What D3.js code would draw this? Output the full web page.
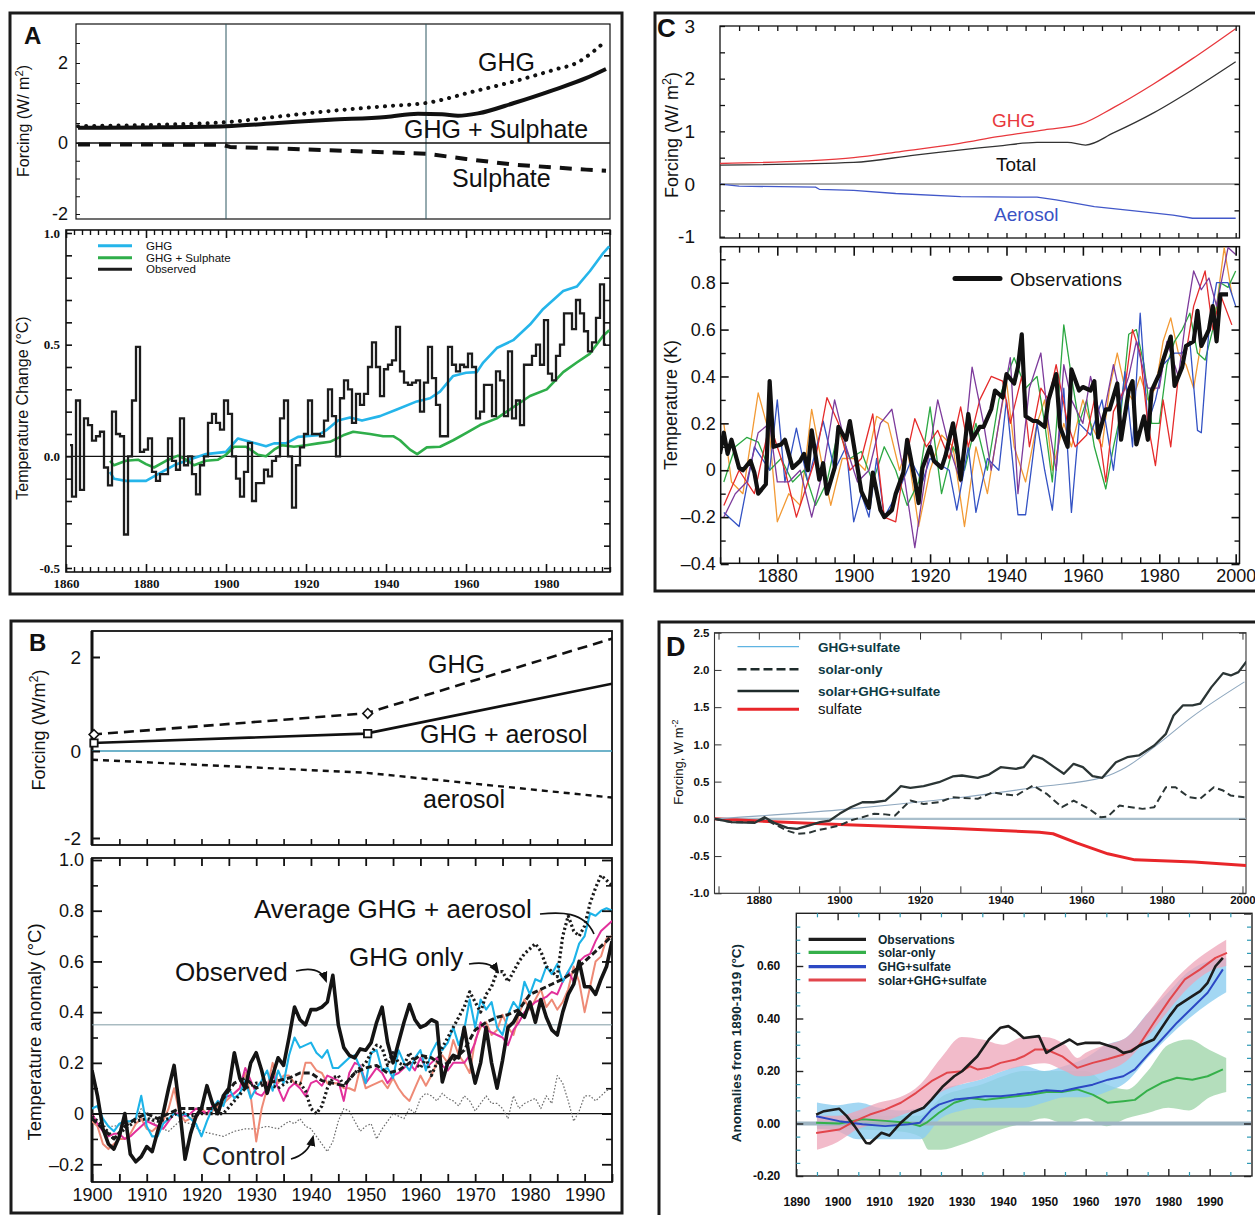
<!DOCTYPE html>
<html>
<head>
<meta charset="utf-8">
<script src="https://cdn.jsdelivr.net/npm/d3@7"></script>
<style>
  body { margin: 0; background: #fff; }
  svg { display: block; }
</style>
</head>
<body>
<script>
// ---------------- data ----------------

// A : forcing (W/m2)
const aGhgForcing = [[1863,0.42],[1880,0.45],[1900,0.52],[1913,0.66],[1926,0.8],[1940,0.92],[1950,1.0],[1962,1.29],[1972,1.54],[1982,1.83],[1988,2.02],[1992,2.3],[1995,2.56]];
const aMixForcing = [[1863,0.38],[1880,0.39],[1900,0.42],[1913,0.5],[1926,0.58],[1940,0.65],[1948,0.73],[1954,0.72],[1958,0.68],[1963,0.74],[1972,1.0],[1982,1.33],[1990,1.62],[1995,1.85]];
const aSulForcing = [[1863,-0.04],[1899,-0.05],[1901,-0.11],[1925,-0.2],[1950,-0.3],[1960,-0.45],[1972,-0.61],[1990,-0.75],[1995,-0.78]];

// A : temperature change, observed annual values from 1861
const aObsStart = 1861;
const aObserved = [
  0.05,-0.18,0.25,-0.15,0.17,0.14,0.07,0.09,0.11,-0.05,
  -0.13,0.2,0.1,0.09,-0.35,0.0,0.25,0.49,0.02,0.03,
  0.08,-0.07,-0.11,-0.08,-0.08,0.08,-0.02,-0.06,0.17,-0.04,
  0.0,-0.08,-0.17,-0.04,0.0,0.15,0.19,0.15,0.12,0.25,
  0.19,0.0,-0.1,-0.18,-0.07,0.06,-0.2,-0.12,-0.12,-0.06,
  -0.09,-0.02,0.0,0.17,0.25,0.0,-0.23,-0.04,0.04,0.1,
  0.25,0.1,0.1,0.09,0.16,0.3,0.18,0.0,0.26,0.34,
  0.3,0.15,0.28,0.23,0.28,0.4,0.51,0.4,0.27,0.39,
  0.41,0.43,0.58,0.38,0.33,0.32,0.33,0.34,0.2,0.33,
  0.49,0.35,0.23,0.09,0.09,0.49,0.41,0.38,0.41,0.4,
  0.46,0.4,0.17,0.2,0.32,0.32,0.18,0.38,0.34,0.18,
  0.47,0.17,0.25,0.14,0.41,0.41,0.45,0.5,0.41,0.61,
  0.37,0.34,0.45,0.5,0.64,0.64,0.57,0.7,0.64,0.56,
  0.47,0.51,0.62,0.77,0.5
];
const aGhgModel = [[1871,-0.07],[1872,-0.1],[1875,-0.11],[1880,-0.11],[1883,-0.08],[1887,-0.04],[1890,-0.02],[1895,0.01],[1900,0.02],[1903,0.08],[1906,0.065],[1910,0.045],[1912,0.058],[1915,0.058],[1918,0.087],[1920,0.09],[1923,0.095],[1925,0.116],[1928,0.16],[1931,0.174],[1934,0.16],[1938.5,0.18],[1942.7,0.21],[1947.7,0.246],[1951,0.26],[1953.5,0.29],[1956.8,0.36],[1960,0.374],[1962.7,0.377],[1964.3,0.42],[1967.7,0.485],[1971.8,0.52],[1976,0.59],[1979.3,0.66],[1984.3,0.74],[1987.7,0.76],[1991,0.83],[1994.3,0.91],[1995.8,0.94]];
const aMixModel = [[1871,-0.02],[1872,-0.04],[1875,-0.02],[1878,-0.015],[1880,-0.035],[1882,-0.05],[1885,-0.02],[1888,0.003],[1890,-0.015],[1892,-0.04],[1895,-0.02],[1898,-0.015],[1900,0.007],[1902,0.043],[1905,0.043],[1908,0.007],[1910,0.0],[1912,0.03],[1914,0.05],[1917,0.043],[1920,0.05],[1923,0.058],[1926,0.065],[1929.3,0.094],[1931.8,0.11],[1936,0.1],[1939.3,0.09],[1941.8,0.09],[1943.5,0.072],[1946,0.03],[1947.8,0.01],[1950.2,0.04],[1953.5,0.043],[1956.8,0.072],[1960,0.104],[1963.5,0.14],[1967.7,0.17],[1971.8,0.22],[1976,0.27],[1980.2,0.3],[1984.3,0.377],[1987.7,0.42],[1991,0.46],[1994.3,0.54],[1995.8,0.565]];
const aLegend = ["GHG", "GHG + Sulphate", "Observed"];

// B : forcing
const bGhgForcing = [[1900,0.35],[1950,0.8],[1995,2.39]];
const bMixForcing = [[1900,0.17],[1950,0.37],[1995,1.43]];
const bAerForcing = [[1900,-0.2],[1950,-0.5],[1995,-1.07]];

// B : temperature anomaly, annual from 1900
const bStart = 1900;
const bObserved = [0.17,0.07,-0.06,-0.12,-0.14,-0.09,0.0,-0.16,-0.19,-0.17,
  -0.13,-0.15,-0.07,0.0,0.1,0.19,0.02,-0.18,-0.08,-0.01,
  0.02,0.11,0.04,0.0,0.07,0.1,0.24,0.14,0.1,0.2,
  0.24,0.17,0.08,0.15,0.22,0.19,0.3,0.42,0.37,0.35,
  0.41,0.41,0.42,0.44,0.545,0.35,0.26,0.23,0.22,0.255,
  0.25,0.28,0.36,0.42,0.28,0.2,0.28,0.36,0.43,0.37,
  0.34,0.35,0.37,0.36,0.125,0.2,0.23,0.22,0.34,0.22,
  0.12,0.2,0.34,0.2,0.1,0.21,0.34,0.36,0.4,0.38,
  0.44,0.36,0.45,0.38,0.33,0.31,0.4,0.47,0.51,0.6,
  0.5,0.5,0.47,0.53,0.58,0.68];
const bCyan = [0.02,0.03,-0.02,-0.05,-0.07,-0.04,-0.03,-0.03,-0.02,0.07,
  -0.05,-0.09,-0.09,-0.04,-0.02,0.0,-0.01,0.0,-0.02,-0.04,
  -0.09,-0.03,0.02,0.05,0.03,0.1,0.06,0.08,0.13,0.06,
  0.1,0.13,0.17,0.09,0.17,0.12,0.23,0.3,0.26,0.27,
  0.28,0.24,0.22,0.25,0.18,0.18,0.2,0.22,0.23,0.18,
  0.12,0.24,0.25,0.17,0.18,0.14,0.25,0.2,0.17,0.22,
  0.25,0.17,0.24,0.28,0.25,0.28,0.34,0.27,0.33,0.45,
  0.34,0.45,0.41,0.44,0.34,0.31,0.39,0.44,0.41,0.52,
  0.47,0.53,0.52,0.58,0.55,0.59,0.52,0.56,0.6,0.67,
  0.7,0.79,0.78,0.8,0.81,0.8];
const bSalmon = [-0.03,-0.05,-0.12,-0.14,-0.12,-0.1,-0.1,-0.08,-0.04,-0.02,
  -0.06,-0.07,-0.05,-0.03,0.02,0.1,0.0,-0.03,-0.02,-0.02,
  0.02,0.0,0.01,0.03,0.04,0.06,0.08,0.1,0.16,0.07,
  -0.11,0.02,0.1,0.2,0.12,0.15,0.15,0.12,0.11,0.2,
  0.2,0.17,0.16,0.12,0.12,0.12,0.1,0.1,0.09,0.18,
  0.1,0.11,0.12,0.13,0.1,0.14,0.1,0.07,0.05,0.1,
  0.15,0.11,0.15,0.2,0.23,0.2,0.29,0.23,0.2,0.16,
  0.29,0.34,0.36,0.31,0.33,0.39,0.34,0.31,0.39,0.45,
  0.41,0.45,0.49,0.42,0.45,0.41,0.44,0.49,0.58,0.52,
  0.4,0.5,0.6,0.62,0.69,0.7];
const bMagenta = [0.0,-0.04,-0.07,-0.09,-0.08,-0.08,-0.1,-0.09,-0.07,-0.05,
  -0.03,-0.04,-0.05,-0.06,-0.03,0.0,0.0,-0.01,0.0,0.02,
  0.01,0.0,0.03,0.04,0.06,0.07,0.08,0.1,0.18,0.13,
  0.08,0.07,0.1,0.16,0.1,0.05,0.1,0.12,0.1,0.07,
  0.12,0.13,0.11,0.15,0.14,0.13,0.05,0.16,0.2,0.19,
  0.12,0.15,0.18,0.16,0.12,0.15,0.16,0.18,0.2,0.17,
  0.22,0.18,0.2,0.22,0.19,0.17,0.2,0.2,0.2,0.23,
  0.28,0.36,0.33,0.32,0.31,0.3,0.27,0.33,0.36,0.4,
  0.42,0.44,0.45,0.46,0.48,0.47,0.52,0.56,0.52,0.6,
  0.62,0.63,0.68,0.72,0.74,0.76];
const bAverage = [[1900,-0.02],[1902,-0.06],[1904,-0.1],[1906,-0.05],[1908,-0.02],[1910,0.0],[1912,-0.02],[1914,0.0],[1916,0.02],[1918,0.02],[1920,0.02],[1922,0.02],[1924,0.06],[1926,0.12],[1928,0.14],[1930,0.1],[1932,0.12],[1934,0.13],[1936,0.14],[1938,0.16],[1940,0.16],[1942,0.13],[1944,0.12],[1946,0.11],[1948,0.16],[1950,0.18],[1952,0.19],[1954,0.16],[1956,0.17],[1958,0.2],[1960,0.23],[1962,0.22],[1964,0.19],[1966,0.21],[1968,0.25],[1970,0.33],[1972,0.36],[1974,0.38],[1976,0.39],[1978,0.41],[1980,0.47],[1982,0.49],[1984,0.51],[1986,0.53],[1988,0.56],[1990,0.6],[1992,0.64],[1994,0.68],[1995,0.7]];
const bGhgOnly = [[1900,-0.01],[1902,-0.05],[1904,-0.1],[1906,-0.06],[1908,-0.03],[1910,-0.02],[1912,-0.03],[1914,-0.02],[1916,0.01],[1918,-0.01],[1920,0.0],[1922,0.0],[1924,0.0],[1926,0.05],[1928,0.1],[1930,0.12],[1932,0.12],[1934,0.1],[1936,0.13],[1938,0.12],[1939,0.09],[1940,0.02],[1941,0.0],[1942,0.03],[1943,0.1],[1944,0.14],[1945,0.15],[1946,0.11],[1948,0.16],[1950,0.2],[1951,0.24],[1952,0.27],[1953,0.26],[1954,0.19],[1955,0.24],[1956,0.2],[1957,0.19],[1958,0.24],[1959,0.2],[1960,0.18],[1961,0.22],[1962,0.15],[1963,0.2],[1964,0.26],[1965,0.3],[1966,0.34],[1967,0.38],[1968,0.42],[1969,0.48],[1970,0.44],[1971,0.4],[1972,0.47],[1973,0.5],[1974,0.56],[1975,0.56],[1976,0.52],[1977,0.56],[1978,0.6],[1979,0.63],[1980,0.65],[1981,0.67],[1982,0.64],[1983,0.58],[1984,0.56],[1985,0.54],[1986,0.7],[1987,0.78],[1988,0.72],[1989,0.7],[1990,0.74],[1991,0.83],[1992,0.89],[1993,0.94],[1994,0.92],[1995,0.9]];
const bControl = [[1900,-0.03],[1902,-0.05],[1904,-0.05],[1906,-0.04],[1908,-0.03],[1909,0.02],[1910,0.0],[1911,-0.03],[1912,-0.05],[1914,-0.07],[1916,-0.03],[1918,-0.04],[1920,-0.07],[1922,-0.08],[1924,-0.09],[1926,-0.07],[1928,-0.06],[1930,-0.06],[1932,-0.05],[1934,-0.06],[1936,-0.03],[1937,-0.04],[1938,-0.02],[1939,-0.05],[1940,-0.06],[1941,-0.09],[1942,-0.12],[1943,-0.15],[1944,-0.11],[1945,-0.03],[1946,0.02],[1947,0.01],[1948,-0.03],[1949,-0.07],[1950,-0.05],[1951,-0.04],[1952,-0.1],[1953,-0.06],[1954,-0.03],[1955,0.0],[1956,-0.01],[1957,-0.02],[1958,0.02],[1959,0.0],[1960,0.06],[1961,0.08],[1962,0.07],[1963,0.05],[1964,0.08],[1965,0.06],[1966,0.05],[1967,0.03],[1968,0.07],[1969,0.05],[1970,0.01],[1971,0.04],[1972,0.07],[1973,0.04],[1974,0.04],[1975,0.02],[1976,-0.02],[1977,0.07],[1978,0.02],[1979,0.04],[1980,0.05],[1981,0.06],[1982,0.02],[1983,0.07],[1984,0.04],[1985,0.15],[1986,0.12],[1987,0.05],[1988,-0.03],[1989,0.01],[1990,0.07],[1991,0.07],[1992,0.05],[1993,0.07],[1994,0.09],[1995,0.1]];

// C : forcing
const cGhg = [[1865,0.39],[1887.5,0.44],[1900,0.5],[1912.6,0.62],[1927.8,0.77],[1937.7,0.9],[1950,1.03],[1959.6,1.14],[1968,1.45],[1978.5,1.9],[1988.7,2.38],[2000,2.95]];
const cTotal = [[1865,0.36],[1900,0.41],[1916,0.55],[1937.7,0.72],[1948,0.79],[1956,0.79],[1960.7,0.74],[1968,0.97],[1978.5,1.35],[1988.7,1.79],[2000,2.32]];
const cAerosol = [[1865,0],[1870,-0.04],[1890,-0.06],[1891,-0.1],[1900,-0.12],[1911,-0.18],[1928,-0.24],[1948,-0.25],[1953,-0.3],[1963,-0.43],[1973.5,-0.51],[1983.6,-0.59],[1988.7,-0.65],[2000,-0.65]];

// C : temperature (K)
const cObs = [[1865,0.07],[1866,0.16],[1867,0.07],[1868,0.13],[1870,0.01],[1871,0.0],[1873,0.04],[1874,-0.01],[1875,-0.1],[1877,-0.06],[1878,0.38],[1879,0.1],[1881,0.11],[1882,0.13],[1884,0.01],[1886,0.04],[1887,0.07],[1888,0.0],[1889,0.17],[1891,-0.04],[1892,0.03],[1893,-0.1],[1895,0.01],[1896,0.185],[1898,0.13],[1899,0.21],[1901,0.01],[1902,-0.09],[1904,-0.16],[1905,-0.01],[1907,-0.17],[1908,-0.2],[1910,-0.17],[1911,-0.1],[1913,-0.01],[1914,0.13],[1916,-0.04],[1917,-0.14],[1918,0.01],[1920,0.1],[1921,0.04],[1923,0.01],[1924,0.06],[1926,0.2],[1927,0.1],[1928,-0.04],[1930,0.24],[1931,0.13],[1933,0.185],[1934,0.185],[1936,0.26],[1937,0.34],[1939,0.31],[1940,0.41],[1942,0.37],[1943,0.44],[1944,0.58],[1945,0.23],[1947,0.21],[1948,0.21],[1950,0.185],[1951,0.3],[1953,0.41],[1954,0.185],[1956,0.1],[1957,0.43],[1959,0.34],[1960,0.355],[1962,0.34],[1963,0.38],[1964,0.14],[1966,0.26],[1967,0.26],[1969,0.37],[1970,0.13],[1972,0.34],[1973,0.38],[1974,0.11],[1976,0.23],[1977,0.13],[1978,0.34],[1980,0.41],[1981,0.47],[1983,0.57],[1984,0.36],[1986,0.44],[1987,0.53],[1989,0.55],[1990,0.68],[1991,0.53],[1993,0.6],[1994,0.7],[1995,0.55],[1996,0.75],[1998,0.75]];
const cBlue = [[1866,-0.18],[1870,-0.24],[1874,0.1],[1878,0.0],[1880,0.3],[1882,-0.05],[1885,0.18],[1888,-0.05],[1892,0.21],[1895,0.0],[1898,0.1],[1900,-0.22],[1902,-0.1],[1904,-0.2],[1906,0.05],[1908,-0.2],[1912,-0.08],[1915,0.04],[1918,-0.05],[1920,0.05],[1925,0.0],[1927,-0.17],[1930,0.1],[1932,-0.18],[1935,0.05],[1938,0.0],[1940,0.3],[1943,-0.19],[1945,-0.19],[1948,0.2],[1950,0.0],[1952,-0.17],[1955,0.35],[1957,-0.18],[1959,0.2],[1962,0.15],[1965,0.3],[1968,0.0],[1971,0.42],[1973,0.1],[1975,0.67],[1977,0.2],[1979,0.3],[1981,0.45],[1984,0.5],[1986,0.5],[1988,0.55],[1990,0.17],[1991,0.16],[1993,0.6],[1995,0.8],[1998,0.8],[2000,0.7]];
const cPurple = [[1866,-0.2],[1869,-0.1],[1872,-0.05],[1875,0.16],[1878,0.2],[1880,-0.05],[1883,-0.05],[1886,0.0],[1889,-0.2],[1892,0.0],[1895,0.3],[1898,0.1],[1901,-0.05],[1904,0.0],[1907,0.2],[1910,0.26],[1913,0.0],[1916,-0.33],[1919,0.0],[1922,0.3],[1925,0.1],[1928,-0.05],[1931,0.44],[1934,0.2],[1936,0.0],[1939,0.3],[1941,0.48],[1943,-0.1],[1946,0.35],[1949,0.5],[1951,0.2],[1953,0.0],[1955,0.45],[1957,0.3],[1960,0.2],[1962,0.4],[1965,0.2],[1968,0.45],[1970,0.3],[1972,0.4],[1974,0.55],[1977,0.35],[1980,0.35],[1982,0.55],[1985,0.4],[1987,0.65],[1989,0.85],[1991,0.77],[1993,0.82],[1995,0.7],[1998,0.95],[2000,0.92]];
const cRed = [[1866,-0.15],[1870,0.0],[1874,-0.1],[1878,0.2],[1882,0.0],[1885,-0.2],[1888,-0.05],[1890,0.05],[1893,0.31],[1896,0.2],[1899,0.0],[1902,0.05],[1905,0.24],[1908,-0.2],[1911,-0.22],[1913,0.0],[1916,0.22],[1919,0.1],[1922,0.17],[1925,0.05],[1928,0.27],[1930,0.1],[1933,0.3],[1936,0.4],[1939,0.38],[1941,0.2],[1944,0.4],[1946,0.1],[1949,0.35],[1951,0.3],[1953,0.45],[1956,0.2],[1958,0.1],[1961,0.15],[1963,0.3],[1966,-0.05],[1968,0.25],[1971,0.35],[1973,0.6],[1975,0.5],[1977,0.2],[1979,0.02],[1981,0.3],[1983,0.1],[1985,0.4],[1987,0.5],[1989,0.7],[1992,0.85],[1994,0.6],[1996,0.75],[1999,0.62]];
const cGreen = [[1866,-0.05],[1869,0.1],[1872,0.14],[1875,0.12],[1878,0.0],[1881,0.05],[1884,-0.05],[1887,0.0],[1890,-0.15],[1893,-0.05],[1896,0.17],[1899,0.05],[1902,0.08],[1905,-0.05],[1908,0.1],[1911,0.0],[1914,-0.15],[1917,-0.05],[1920,0.27],[1923,-0.1],[1926,0.1],[1929,0.0],[1932,0.2],[1935,0.0],[1938,0.3],[1940,0.4],[1942,0.48],[1945,0.35],[1948,0.4],[1950,0.2],[1952,-0.05],[1955,0.62],[1957,0.4],[1959,0.2],[1961,0.3],[1963,0.1],[1966,-0.08],[1968,0.1],[1970,0.25],[1972,0.58],[1974,0.6],[1976,0.45],[1978,0.2],[1980,0.2],[1982,0.45],[1984,0.55],[1986,0.6],[1988,0.67],[1990,0.5],[1992,0.47],[1994,0.6],[1996,0.8],[1998,0.78],[2000,0.85]];
const cOrange = [[1866,0.2],[1868,-0.05],[1871,-0.1],[1875,0.33],[1878,0.15],[1880,-0.22],[1883,-0.1],[1886,-0.15],[1889,0.26],[1892,0.0],[1894,-0.15],[1897,0.05],[1900,0.05],[1903,0.0],[1906,0.23],[1909,0.2],[1912,0.0],[1914,0.1],[1917,-0.24],[1920,0.0],[1923,0.15],[1926,0.1],[1929,-0.24],[1932,0.1],[1935,-0.1],[1938,0.2],[1940,0.38],[1942,0.1],[1945,-0.05],[1948,0.2],[1950,0.3],[1952,0.0],[1955,0.2],[1957,0.1],[1960,0.3],[1962,0.2],[1965,0.1],[1967,0.35],[1969,0.5],[1971,0.35],[1973,0.3],[1975,0.4],[1977,0.3],[1979,0.35],[1981,0.55],[1983,0.65],[1985,0.5],[1987,0.45],[1989,0.35],[1991,0.55],[1993,0.6],[1995,0.7],[1997,0.95],[1999,0.75]];

// D : forcing
const dGhgSulf = [[1869,0],[1900,0.12],[1915,0.2],[1930.5,0.29],[1949.6,0.43],[1965.5,0.56],[1968,0.61],[1971,0.69],[1978,0.96],[1987.5,1.37],[2000.5,1.84]];
const dSolar = [[1869,0],[1873.3,-0.045],[1879,-0.045],[1881.4,0.0],[1883.8,-0.07],[1887.1,-0.16],[1889.5,-0.2],[1892.3,-0.19],[1894.2,-0.157],[1897.6,-0.12],[1900,-0.09],[1902.8,-0.02],[1905.7,0.022],[1908.5,0.067],[1911.4,0.06],[1913.8,0.045],[1917.6,0.246],[1920.9,0.2],[1924.7,0.223],[1928.1,0.29],[1934.3,0.269],[1938.1,0.358],[1940,0.336],[1943.8,0.313],[1948.1,0.448],[1951.4,0.336],[1955.2,0.156],[1958.1,0.246],[1961.9,0.134],[1964.8,0.022],[1966.6,0.031],[1969.5,0.179],[1972.4,0.156],[1975.2,0.134],[1978.1,0.156],[1981,0.425],[1983.4,0.425],[1986.7,0.29],[1989.5,0.269],[1992.9,0.425],[1995.2,0.38],[1997.1,0.313],[2000.5,0.29]];
const dAll = [[1869,0],[1873.3,-0.045],[1879,-0.054],[1881.4,0.022],[1883.8,-0.054],[1887.1,-0.121],[1889.5,-0.134],[1892.3,-0.09],[1895.2,-0.045],[1897.6,-0.023],[1900,0.067],[1902.8,0.156],[1905.7,0.223],[1908.5,0.223],[1911.4,0.246],[1913.8,0.358],[1915.2,0.438],[1917.6,0.417],[1920.9,0.438],[1924.7,0.492],[1928.1,0.569],[1930.4,0.582],[1934.3,0.551],[1937.1,0.595],[1940,0.694],[1943.8,0.672],[1945.7,0.694],[1948.1,0.851],[1950.4,0.806],[1953.3,0.694],[1955.7,0.605],[1958.1,0.739],[1960.4,0.694],[1962.8,0.573],[1965.2,0.551],[1968.6,0.761],[1971.4,0.828],[1974.3,0.851],[1978.1,0.985],[1981,1.142],[1982.9,1.388],[1985.2,1.523],[1987.6,1.523],[1989.5,1.546],[1992.3,1.769],[1995.2,1.957],[1997.1,1.926],[1999,1.97],[2001,2.114]];
const dSulfate = [[1869,0],[1880,-0.03],[1900,-0.077],[1930,-0.134],[1949.6,-0.18],[1953,-0.2],[1959,-0.327],[1966.6,-0.47],[1973.3,-0.551],[1988,-0.58],[2001,-0.627]];
const dLegendTop = ["GHG+sulfate", "solar-only", "solar+GHG+sulfate", "sulfate"];

// D : anomalies from 1890-1919
const dbObs = [[1894.8,0.034],[1896.7,0.047],[1900.4,0.056],[1902.2,0.028],[1904.1,-0.01],[1906.9,-0.074],[1907.8,-0.076],[1910.6,-0.035],[1912.5,-0.046],[1915.3,0.003],[1918,0.041],[1920.8,0.06],[1922.7,0.091],[1925.5,0.142],[1928.2,0.18],[1930.1,0.199],[1933.8,0.256],[1936.6,0.32],[1939.4,0.365],[1941.3,0.371],[1943.1,0.352],[1945,0.326],[1948.7,0.333],[1950.5,0.269],[1952.4,0.288],[1956.1,0.32],[1958,0.301],[1959.8,0.307],[1963.5,0.307],[1967.3,0.288],[1969.1,0.269],[1971,0.275],[1972.8,0.295],[1976.5,0.32],[1980.3,0.409],[1982.1,0.447],[1985.8,0.485],[1987.7,0.504],[1989.5,0.536],[1991.4,0.599],[1993.2,0.631]];
const dbRed = [[1894.8,-0.036],[1900.4,-0.023],[1904.1,0.009],[1907.8,0.034],[1911.5,0.053],[1915.3,0.079],[1919,0.117],[1922.7,0.161],[1926.4,0.193],[1930.1,0.199],[1932,0.218],[1933.8,0.206],[1936.6,0.212],[1939.4,0.231],[1943.1,0.244],[1945,0.256],[1947.8,0.282],[1950.5,0.282],[1954.3,0.256],[1958,0.212],[1961.7,0.231],[1965.4,0.246],[1969.1,0.263],[1972.8,0.295],[1976.5,0.384],[1980.3,0.472],[1984,0.549],[1987.7,0.587],[1991.4,0.631],[1994.2,0.65]];
const dbBlue = [[1894.8,0.028],[1900.4,0.009],[1906,-0.003],[1911.5,-0.01],[1917.1,-0.003],[1919.9,0.003],[1922.7,0.053],[1924.5,0.072],[1928.2,0.091],[1932,0.097],[1935.7,0.104],[1939.4,0.104],[1943.1,0.11],[1946.8,0.117],[1950.5,0.127],[1954.2,0.123],[1958,0.136],[1961.7,0.148],[1965.4,0.167],[1969.1,0.18],[1971.9,0.206],[1974.7,0.256],[1978.4,0.32],[1982.1,0.384],[1985.8,0.441],[1989.5,0.498],[1993.2,0.587]];
const dbGreen = [[1894.8,0.003],[1900.4,0.0],[1906,0.016],[1911.5,0.01],[1917.1,0.003],[1919.9,-0.01],[1921.5,0.003],[1924.5,0.041],[1928.2,0.079],[1932,0.097],[1935.7,0.09],[1939.4,0.097],[1943.1,0.104],[1946.8,0.11],[1950.5,0.12],[1954.2,0.12],[1958,0.13],[1961.7,0.11],[1965.4,0.079],[1969.1,0.085],[1971.9,0.09],[1974.7,0.123],[1978.4,0.155],[1982.1,0.174],[1985.8,0.167],[1989.5,0.18],[1993.2,0.206]];
const dbRedBand = [[1895,-0.1,0.03],[1900,-0.07,0.03],[1905,-0.02,0.05],[1910,0.0,0.08],[1915,0.03,0.1],[1920,0.06,0.15],[1925,0.12,0.25],[1930,0.15,0.33],[1935,0.17,0.32],[1940,0.2,0.3],[1945,0.22,0.33],[1950,0.23,0.33],[1955,0.2,0.3],[1958,0.18,0.25],[1960,0.18,0.27],[1965,0.2,0.3],[1970,0.24,0.33],[1975,0.33,0.42],[1980,0.43,0.52],[1985,0.52,0.6],[1990,0.58,0.66],[1994,0.6,0.7]];
const dbBlueBand = [[1895,-0.02,0.08],[1900,-0.03,0.07],[1905,-0.06,0.08],[1910,-0.06,0.06],[1915,-0.06,0.05],[1920,-0.06,0.06],[1925,0.02,0.13],[1930,0.05,0.15],[1935,0.06,0.17],[1940,0.06,0.2],[1945,0.06,0.22],[1950,0.08,0.2],[1955,0.1,0.22],[1960,0.1,0.25],[1965,0.12,0.3],[1970,0.16,0.33],[1975,0.25,0.42],[1980,0.33,0.5],[1985,0.4,0.58],[1990,0.46,0.62],[1994,0.5,0.63]];
const dbGreenBand = [[1895,-0.02,0.03],[1915,-0.03,0.03],[1920,-0.05,0.03],[1922,-0.1,0.05],[1925,-0.1,0.1],[1930,-0.08,0.13],[1935,-0.05,0.15],[1940,-0.02,0.18],[1945,0.0,0.2],[1950,0.02,0.2],[1955,0.0,0.2],[1960,0.02,0.2],[1965,-0.01,0.15],[1970,0.02,0.13],[1975,0.04,0.2],[1980,0.06,0.3],[1985,0.05,0.32],[1990,0.1,0.28],[1994,0.12,0.25]];
const dLegendBottom = ["Observations", "solar-only", "GHG+sulfate", "solar+GHG+sulfate"];

// ---------------- drawing ----------------
const SANS = "'Liberation Sans', Arial, Helvetica, sans-serif";
const SERIF = "'Liberation Serif', 'Times New Roman', serif";
const svg = d3.select("body").append("svg").attr("width", 1255).attr("height", 1215);
const defs = svg.append("defs");
defs.append("marker").attr("id", "arrow").attr("viewBox", "0 0 10 10")
  .attr("refX", 8).attr("refY", 5).attr("markerWidth", 7).attr("markerHeight", 7)
  .attr("orient", "auto")
  .append("path").attr("d", "M0,1 L10,5 L0,9 z").attr("fill", "#111");

function clip(id, x, y, w, h) {
  defs.append("clipPath").attr("id", id).append("rect")
    .attr("x", x).attr("y", y).attr("width", w).attr("height", h);
  return svg.append("g").attr("clip-path", `url(#${id})`);
}
function box(x, y, w, h, sw, col) {
  svg.append("rect").attr("x", x).attr("y", y).attr("width", w).attr("height", h)
    .attr("fill", "none").attr("stroke", col || "#111").attr("stroke-width", sw);
}
function line(g, pts, x, y, st, curve) {
  const gen = d3.line().x(d => x(d[0])).y(d => y(d[1])).curve(curve || d3.curveLinear);
  const p = g.append("path").attr("d", gen(pts)).attr("fill", "none")
    .attr("stroke-linejoin", "round");
  for (const k in st) p.attr(k, st[k]);
  return p;
}
function annual(start, vals) { return vals.map((v, i) => [start + i, v]); }
function label(str, x, y, o = {}) {
  const t = svg.append("text").attr("x", x).attr("y", y)
    .attr("font-family", o.family || SANS).attr("font-size", o.size || 16)
    .attr("font-weight", o.weight || "normal").attr("fill", o.fill || "#111")
    .attr("text-anchor", o.anchor || "start");
  if (o.rotate) t.attr("transform", `rotate(-90,${x},${y})`);
  if (Array.isArray(str)) {
    str.forEach(s => {
      const ts = t.append("tspan").text(s[0]);
      if (s[1]) ts.attr("baseline-shift", s[1]).attr("font-size", (o.size || 16) * 0.7);
    });
  } else t.text(str);
  return t;
}
// ticks that point into the plot; labels outside
function ticks(orient, scale, vals, pos, len, o = {}) {
  const mk = { left: d3.axisLeft, right: d3.axisRight, top: d3.axisTop, bottom: d3.axisBottom }[orient];
  const gen = mk(scale).tickValues(vals).tickSizeInner(-len).tickSizeOuter(0)
    .tickPadding(o.pad || 6).tickFormat(o.fmt || (() => ""));
  const tr = (orient === "left" || orient === "right") ? `translate(${pos},0)` : `translate(0,${pos})`;
  const g = svg.append("g").attr("transform", tr).call(gen);
  g.select(".domain").remove();
  g.attr("font-family", o.family || SANS).attr("font-size", o.size || 12)
    .attr("font-weight", o.weight || "normal");
  g.selectAll(".tick line").attr("stroke", o.color || "#111").attr("stroke-width", o.sw || 1);
  g.selectAll(".tick text").attr("fill", o.textColor || "#111");
  return g;
}
const near = (v, step) => Math.abs(v / step - Math.round(v / step)) < 1e-6;
const steps = (a, b, s) => d3.range(Math.round((b - a) / s) + 1).map(i => +(a + i * s).toFixed(4));

// ================= PANEL A =================
box(10, 13, 612, 581, 3, "#1b1b1b");
const xA = d3.scaleLinear([1860, 1996], [66, 610]);

// top: forcing
const yAf = d3.scaleLinear([-2, 0, 2], [214, 143, 63]);
box(76, 24, 534, 195, 1.2);
const gAf = clip("clipAf", 76, 24, 534, 195);
[1900, 1950].forEach(yr => gAf.append("line").attr("x1", xA(yr)).attr("x2", xA(yr))
  .attr("y1", 24).attr("y2", 219).attr("stroke", "#2d5661").attr("stroke-width", 1));
gAf.append("line").attr("x1", 76).attr("x2", 610).attr("y1", yAf(0)).attr("y2", yAf(0))
  .attr("stroke", "#111").attr("stroke-width", 1.5);
ticks("left", yAf, steps(-2, 2.5, 0.5), 76, 4, { sw: 1 });
ticks("left", yAf, [-2, 0, 2], 76, 0, { pad: 8, size: 18, fmt: d => d });
line(gAf, aSulForcing, xA, yAf, { stroke: "#111", "stroke-width": 4, "stroke-dasharray": "12,9" });
line(gAf, aGhgForcing, xA, yAf, { stroke: "#111", "stroke-width": 4, "stroke-dasharray": "0.1,8", "stroke-linecap": "round" }, d3.curveMonotoneX);
line(gAf, aMixForcing, xA, yAf, { stroke: "#111", "stroke-width": 4 }, d3.curveMonotoneX);
label("GHG", 478, 71, { size: 25 });
label("GHG + Sulphate", 404, 138, { size: 25 });
label("Sulphate", 452, 187, { size: 25 });
label("A", 24, 44, { size: 24, weight: "bold" });
label([["Forcing (W/ m"], ["2", "super"], [")"]], 29, 121, { size: 16, anchor: "middle", rotate: true });

// bottom: temperature
const yAt = d3.scaleLinear([-0.5, 1.0], [568, 233]);
box(66, 230, 544, 342, 1.6);
const gAt = clip("clipAt", 66, 230, 544, 342);
gAt.append("line").attr("x1", 66).attr("x2", 610).attr("y1", yAt(0)).attr("y2", yAt(0))
  .attr("stroke", "#111").attr("stroke-width", 1.4);
const aTv = steps(-0.5, 1.0, 0.1);
ticks("left", yAt, aTv, 66, 6, { sw: 1.6, pad: 6, family: SERIF, weight: "bold", size: 13,
  fmt: d => near(d, 0.5) ? d.toFixed(1) : "" });
ticks("right", yAt, aTv, 610, 6, { sw: 1.6 });
const aYv = steps(1860, 1996, 2);
ticks("bottom", xA, aYv.filter(d => d % 20), 572, 5, { sw: 1.4 });
ticks("bottom", xA, steps(1860, 1980, 20), 572, 8, { sw: 1.6, pad: 7, family: SERIF, weight: "bold", size: 13, fmt: d => d });
ticks("top", xA, aYv.filter(d => d % 20), 230, 5, { sw: 1.4 });
ticks("top", xA, steps(1860, 1980, 20), 230, 8, { sw: 1.6 });
line(gAt, aGhgModel, xA, yAt, { stroke: "#25b5ea", "stroke-width": 2.6 });
line(gAt, aMixModel, xA, yAt, { stroke: "#2fae4a", "stroke-width": 2.6 });
line(gAt, annual(aObsStart, aObserved), xA, yAt, { stroke: "#1c1c1c", "stroke-width": 2.3, "stroke-linejoin": "miter" }, d3.curveStep);
[["#25b5ea", 245.7], ["#2fae4a", 257.7], ["#1c1c1c", 269.3]].forEach((c, i) => {
  svg.append("line").attr("x1", 98).attr("x2", 132).attr("y1", c[1]).attr("y2", c[1])
    .attr("stroke", c[0]).attr("stroke-width", 3);
  label(aLegend[i], 146, c[1] + 4, { size: 11.5 });
});
label("Temperature Change (°C)", 28, 408, { size: 16, anchor: "middle", rotate: true });

// ================= PANEL B =================
box(11, 621, 611, 592, 3, "#1b1b1b");
const xB = d3.scaleLinear([1900, 1995], [92, 612]);

// top: forcing
const yBf = d3.scaleLinear([-2, 0, 2], [838, 751, 657]);
box(92, 631, 520, 214, 1.8);
svg.append("line").attr("x1", 92).attr("x2", 92).attr("y1", 631).attr("y2", 845).attr("stroke", "#111").attr("stroke-width", 3);
const gBf = clip("clipBf", 92, 631, 520, 214);
gBf.append("line").attr("x1", 92).attr("x2", 612).attr("y1", yBf(0)).attr("y2", yBf(0))
  .attr("stroke", "#3f9ab8").attr("stroke-width", 1.6);
ticks("left", yBf, [-2, 0, 2], 92, 8, { sw: 2, pad: 11, size: 19, fmt: d => d });
ticks("bottom", xB, steps(1905, 1990, 5), 845, 6, { sw: 1.6 });
line(gBf, bGhgForcing, xB, yBf, { stroke: "#111", "stroke-width": 2.6, "stroke-dasharray": "10,6" });
line(gBf, bMixForcing, xB, yBf, { stroke: "#111", "stroke-width": 2.6 });
line(gBf, bAerForcing, xB, yBf, { stroke: "#111", "stroke-width": 2.4, "stroke-dasharray": "6,5" });
const sym = (t, s) => d3.symbol().type(t).size(s)();
[1900, 1950].forEach((yr, i) => {
  const gv = bGhgForcing[i][1], mv = bMixForcing[i][1], av = bAerForcing[i][1];
  svg.append("path").attr("d", sym(d3.symbolDiamond2, 60)).attr("transform", `translate(${xB(yr) + 2},${yBf(gv)})`)
    .attr("fill", "#fff").attr("stroke", "#111").attr("stroke-width", 1.6);
  svg.append("path").attr("d", sym(d3.symbolSquare2, 70)).attr("transform", `translate(${xB(yr) + 2},${yBf(mv)})`)
    .attr("fill", "#fff").attr("stroke", "#111").attr("stroke-width", 1.8);
  svg.append("path").attr("d", sym(d3.symbolPlus, 50)).attr("transform", `translate(${xB(yr) + 1},${yBf(av)})`)
    .attr("fill", "#111");
});
label("GHG", 428, 673, { size: 25 });
label("GHG + aerosol", 420, 743, { size: 25 });
label("aerosol", 423, 808, { size: 25 });
label("B", 29, 651, { size: 24, weight: "bold" });
label([["Forcing (W/m"], ["2", "super"], [")"]], 45, 730, { size: 18, anchor: "middle", rotate: true });

// bottom: temperature anomaly
const yBt = d3.scaleLinear([-0.2, 1.0], [1164.3, 860]);
box(92, 858, 520, 324, 1.8);
svg.append("line").attr("x1", 92).attr("x2", 92).attr("y1", 858).attr("y2", 1182).attr("stroke", "#111").attr("stroke-width", 3);
const gBt = clip("clipBt", 92, 858, 520, 324);
gBt.append("line").attr("x1", 92).attr("x2", 612).attr("y1", yBt(0.35)).attr("y2", yBt(0.35))
  .attr("stroke", "#7f9aa3").attr("stroke-width", 1);
gBt.append("line").attr("x1", 92).attr("x2", 612).attr("y1", yBt(0)).attr("y2", yBt(0))
  .attr("stroke", "#111").attr("stroke-width", 1.3);
const bTv = steps(-0.2, 1.0, 0.1);
const bFmt = d => !near(d, 0.2) ? "" : (d === 0 ? "0" : (d < 0 ? "\u2013" + Math.abs(d).toFixed(1) : d.toFixed(1)));
ticks("left", yBt, bTv.filter(d => !near(d, 0.2)), 92, 6, { sw: 1.6 });
ticks("left", yBt, bTv.filter(d => near(d, 0.2)), 92, 10, { sw: 1.8, pad: 8, size: 18, fmt: bFmt });
ticks("right", yBt, bTv.filter(d => !near(d, 0.2)), 612, 6, { sw: 1.6 });
ticks("right", yBt, bTv.filter(d => near(d, 0.2)), 612, 10, { sw: 1.8 });
ticks("bottom", xB, steps(1900, 1995, 5), 1182, 8, { sw: 1.8, pad: 6, size: 18, fmt: d => d % 10 ? "" : d });
ticks("top", xB, steps(1905, 1990, 5), 858, 8, { sw: 1.8 });
line(gBt, bControl, xB, yBt, { stroke: "#6d6d6d", "stroke-width": 1.2, "stroke-dasharray": "1.6,1.8" });
line(gBt, annual(bStart, bSalmon), xB, yBt, { stroke: "#ee8a76", "stroke-width": 2 });
line(gBt, annual(bStart, bMagenta), xB, yBt, { stroke: "#e2309b", "stroke-width": 2 });
line(gBt, annual(bStart, bCyan), xB, yBt, { stroke: "#1db3e8", "stroke-width": 2.1 });
line(gBt, bAverage, xB, yBt, { stroke: "#1a1a1a", "stroke-width": 3, "stroke-dasharray": "6,3" });
line(gBt, bGhgOnly, xB, yBt, { stroke: "#1a1a1a", "stroke-width": 3.2, "stroke-dasharray": "2.2,2.6" });
line(gBt, annual(bStart, bObserved), xB, yBt, { stroke: "#141414", "stroke-width": 3.6 });
label("Average GHG + aerosol", 254, 918, { size: 26 });
label("GHG only", 349, 966, { size: 26 });
label("Observed", 175, 981, { size: 26 });
label("Control", 202, 1165, { size: 26, fill: "#222" });
const arrows = [
  ["M296,971 C312,967 322,970 326,981", true],
  ["M469,964 C482,962 492,963 498,972", true],
  ["M540,914 C560,912 584,911 594,934", false],
  ["M291,1159 C302,1156 310,1149 313,1137", true]
];
arrows.forEach(a => {
  const p = svg.append("path").attr("d", a[0]).attr("fill", "none").attr("stroke", "#111").attr("stroke-width", 1.6);
  if (a[1]) p.attr("marker-end", "url(#arrow)");
});
label("Temperature anomaly (°C)", 41, 1032, { size: 18.5, anchor: "middle", rotate: true });

// ================= PANEL C =================
box(655, 13, 620, 578, 3, "#1b1b1b");
const xC = d3.scaleLinear([1865, 2001], [720, 1239.5]);

// top: forcing
const yCf = d3.scaleLinear([-1, 3], [236.7, 26]);
box(720, 26, 519.5, 212, 1.3);
const gCf = clip("clipCf", 720, 26, 519.5, 212);
gCf.append("line").attr("x1", 720).attr("x2", 1239.5).attr("y1", yCf(0)).attr("y2", yCf(0))
  .attr("stroke", "#555").attr("stroke-width", 1);
ticks("left", yCf, steps(-1, 3, 0.5), 720, 5, { sw: 1.3 });
ticks("left", yCf, [-1, 0, 1, 2, 3], 720, 0, { pad: 25, size: 19, fmt: d => d });
ticks("right", yCf, steps(-0.5, 2.5, 0.5), 1239.5, 5, { sw: 1.3 });
ticks("bottom", xC, steps(1870, 2000, 5), 238, 5, { sw: 1.3 });
ticks("top", xC, steps(1870, 2000, 5), 26, 5, { sw: 1.3 });
line(gCf, cAerosol, xC, yCf, { stroke: "#4258c9", "stroke-width": 1.3 });
line(gCf, cTotal, xC, yCf, { stroke: "#333", "stroke-width": 1.3 }, d3.curveMonotoneX);
line(gCf, cGhg, xC, yCf, { stroke: "#e8383d", "stroke-width": 1.3 }, d3.curveMonotoneX);
label("GHG", 992, 127, { size: 19, fill: "#e8383d" });
label("Total", 996, 171, { size: 19 });
label("Aerosol", 994, 221, { size: 19, fill: "#3a52c4" });
label("C", 657, 37, { size: 26, weight: "bold" });
label([["Forcing (W/ m"], ["2", "super"], [")"]], 678, 135, { size: 18, anchor: "middle", rotate: true });

// bottom: temperature
const yCt = d3.scaleLinear([-0.4, 0.8], [564, 282.7]);
box(720.7, 246.7, 518.8, 316.6, 1.5);
const gCt = clip("clipCt", 720.7, 246.7, 518.8, 316.6);
const cTv = steps(-0.4, 0.9, 0.1);
const cFmt = d => d === 0 ? "0" : (d < 0 ? "\u2013" + Math.abs(d).toFixed(1) : d.toFixed(1));
ticks("left", yCt, cTv.filter(d => !near(d, 0.2)), 720.7, 5, { sw: 1.4 });
ticks("left", yCt, cTv.filter(d => near(d, 0.2)), 720.7, 8, { sw: 1.6, pad: 5, size: 18, fmt: cFmt });
ticks("right", yCt, cTv.filter(d => !near(d, 0.2)), 1239.5, 5, { sw: 1.4 });
ticks("right", yCt, cTv.filter(d => near(d, 0.2)), 1239.5, 8, { sw: 1.6 });
ticks("bottom", xC, steps(1865, 2000, 5).filter(d => d % 20), 563.3, 6, { sw: 1.4 });
ticks("bottom", xC, steps(1880, 2000, 20), 563.3, 9, { sw: 1.6, pad: 6, size: 18, fmt: d => d });
ticks("top", xC, steps(1865, 2000, 5).filter(d => d % 20), 246.7, 6, { sw: 1.4 });
ticks("top", xC, steps(1880, 2000, 20), 246.7, 9, { sw: 1.6 });
[[cOrange, "#f29a35"], [cGreen, "#2ca842"], [cBlue, "#3352c4"], [cRed, "#e52b2b"], [cPurple, "#7d3b9c"]]
  .forEach(s => line(gCt, s[0], xC, yCt, { stroke: s[1], "stroke-width": 1.3 }));
line(gCt, cObs, xC, yCt, { stroke: "#111", "stroke-width": 4.2 });
svg.append("line").attr("x1", 955).attr("x2", 1000).attr("y1", 278.5).attr("y2", 278.5)
  .attr("stroke", "#111").attr("stroke-width", 5).attr("stroke-linecap", "round");
label("Observations", 1010, 285.5, { size: 19 });
label("Temperature (K)", 677, 405, { size: 18, anchor: "middle", rotate: true });

// ================= PANEL D =================
box(659, 622, 620, 600, 3, "#1b1b1b");

// top: forcing
const xD = d3.scaleLinear([1869, 2001], [714.5, 1246.5]);
const yDf = d3.scaleLinear([-1, 2.5], [893.3, 632.7]);
box(714.5, 632.7, 531.5, 260.6, 1.1, "#333");
const gDf = clip("clipDf", 714.5, 632.7, 531.5, 260.6);
gDf.append("line").attr("x1", 714.5).attr("x2", 1246).attr("y1", yDf(0)).attr("y2", yDf(0))
  .attr("stroke", "#a9bfcc").attr("stroke-width", 2.2);
const dFv = steps(-1, 2.5, 0.5);
ticks("left", yDf, dFv, 714.5, 7, { sw: 1, color: "#333", pad: 5, size: 11.5, weight: "bold", fmt: d => d.toFixed(1) });
ticks("right", yDf, dFv, 1246, 7, { sw: 1, color: "#333" });
ticks("bottom", xD, steps(1870, 2000, 10), 893.3, 7, { sw: 1, color: "#333", pad: 3, size: 11.5, weight: "bold", fmt: d => d % 20 ? "" : d });
ticks("top", xD, steps(1870, 2000, 10), 632.7, 7, { sw: 1, color: "#333" });
line(gDf, dSulfate, xD, yDf, { stroke: "#e8262a", "stroke-width": 3 });
line(gDf, dGhgSulf, xD, yDf, { stroke: "#8fa8bf", "stroke-width": 1.1 }, d3.curveMonotoneX);
line(gDf, dSolar, xD, yDf, { stroke: "#2b3535", "stroke-width": 2, "stroke-dasharray": "7,4" });
line(gDf, dAll, xD, yDf, { stroke: "#2b3535", "stroke-width": 2.3 });
const dLegStyles = [
  { stroke: "#5fb4e2", "stroke-width": 1.2 },
  { stroke: "#1e2b2b", "stroke-width": 2.4, "stroke-dasharray": "9,4" },
  { stroke: "#1e2b2b", "stroke-width": 2.6 },
  { stroke: "#e8262a", "stroke-width": 3 }
];
[646.7, 669.3, 691, 709.3].forEach((yy, i) => {
  const l = svg.append("line").attr("x1", 737.5).attr("x2", 799).attr("y1", yy).attr("y2", yy);
  for (const k in dLegStyles[i]) l.attr(k, dLegStyles[i][k]);
  label(dLegendTop[i], 818, yy + 5, i < 3 ? { size: 13.5, weight: "bold", fill: "#0d3a44" } : { size: 15 });
});
label("D", 666, 656, { size: 27, weight: "bold" });
label([["Forcing, W m"], ["-2", "super"]], 683, 762, { size: 13, anchor: "middle", rotate: true });

// bottom: anomalies
const xDb = d3.scaleLinear([1890, 2000], [796.3, 1251]);
const yDb = d3.scaleLinear([-0.2, 0.8], [1176, 913.5]);
const gDb = clip("clipDb", 796.3, 913.3, 455.7, 262.7);
const band = d3.area().x(d => xDb(d[0])).y0(d => yDb(d[1])).y1(d => yDb(d[2])).curve(d3.curveMonotoneX);
gDb.append("path").attr("d", band(dbGreenBand)).attr("fill", "#9bd3a6").attr("opacity", 0.75);
gDb.append("path").attr("d", band(dbBlueBand)).attr("fill", "#8ccdf0").attr("opacity", 0.8);
gDb.append("path").attr("d", band(dbRedBand)).attr("fill", "#eda4b8").attr("opacity", 0.75);
gDb.append("line").attr("x1", 796.3).attr("x2", 1251).attr("y1", yDb(0)).attr("y2", yDb(0))
  .attr("stroke", "#9db4c2").attr("stroke-width", 4);
line(gDb, dbGreen, xDb, yDb, { stroke: "#35b04a", "stroke-width": 2 });
line(gDb, dbBlue, xDb, yDb, { stroke: "#2c48c4", "stroke-width": 2 });
line(gDb, dbRed, xDb, yDb, { stroke: "#e2464c", "stroke-width": 2 });
line(gDb, dbObs, xDb, yDb, { stroke: "#1d1d1d", "stroke-width": 2.6 });
box(796.3, 913.3, 455.7, 262.7, 1.4, "#222");
const dbV = steps(-0.2, 0.8, 0.05);
ticks("left", yDb, dbV.filter(d => !near(d, 0.2)), 796.3, 4, { sw: 1.2, color: "#2f9ab5" });
ticks("left", yDb, steps(-0.2, 0.6, 0.2), 796.3, 7, { sw: 1.4, color: "#222", pad: 16, size: 12, weight: "bold",
  fmt: d => d.toFixed(2) });
ticks("right", yDb, dbV.filter(d => !near(d, 0.2)), 1251, 4, { sw: 1.2, color: "#2f9ab5" });
ticks("right", yDb, steps(-0.2, 0.8, 0.2), 1251, 7, { sw: 1.4, color: "#222" });
ticks("bottom", xDb, steps(1895, 1995, 10), 1176, 4, { sw: 1.2, color: "#2f9ab5" });
ticks("bottom", xDb, steps(1890, 1990, 10), 1176, 7, { sw: 1.4, color: "#222", pad: 21, size: 12, weight: "bold", fmt: d => d });
ticks("top", xDb, steps(1895, 1995, 10), 913.3, 4, { sw: 1.2, color: "#2f9ab5" });
ticks("top", xDb, steps(1900, 1990, 10), 913.3, 7, { sw: 1.4, color: "#222" });
const dbLegColors = ["#1d1d1d", "#35b04a", "#2c48c4", "#e2464c"];
[939.3, 952.3, 966.7, 980].forEach((yy, i) => {
  svg.append("line").attr("x1", 808.6).attr("x2", 866).attr("y1", yy).attr("y2", yy)
    .attr("stroke", dbLegColors[i]).attr("stroke-width", 3.2);
  label(dLegendBottom[i], 878, yy + 4.5, { size: 12, weight: "bold", fill: "#0e2a33" });
});
label("Anomalies from 1890-1919 (°C)", 741, 1043, { size: 13.5, weight: "bold", anchor: "middle", rotate: true, fill: "#0e2a33" });
</script>
</body>
</html>
